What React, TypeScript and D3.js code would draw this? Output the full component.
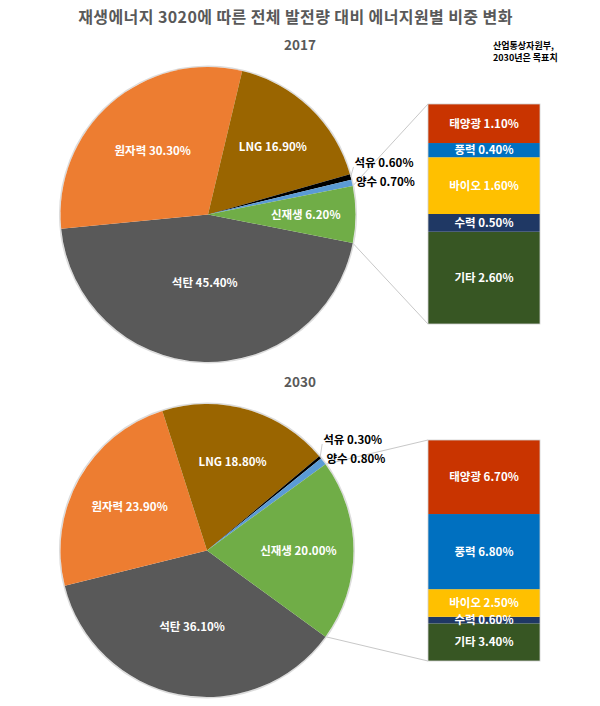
import * as d3 from "d3";

// 발전원 (파이) - 시계방향 순서
const sources = ["석탄", "원자력", "LNG", "석유", "양수", "신재생"];
const share2017 = [45.4, 30.3, 16.9, 0.6, 0.7, 6.2];
const share2030 = [36.1, 23.9, 18.8, 0.3, 0.8, 20.0];

// 신재생 세부 (막대, 아래에서 위로)
const renewables = ["기타", "수력", "바이오", "풍력", "태양광"];
const renew2017 = [2.6, 0.5, 1.6, 0.4, 1.1];
const renew2030 = [3.4, 0.6, 2.5, 6.8, 6.7];

const years = ["2017", "2030"];

const pieColors = ["#595959", "#ED7D31", "#9A6500", "#000000", "#5B9BD5", "#70AD47"];
const barColors = ["#375623", "#1F3864", "#FFC000", "#0070C0", "#C93400"];

const FONT = "'Noto Sans CJK KR', 'Noto Sans', sans-serif";
const fmt = (v: number) => v.toFixed(2) + "%";

type PanelProps = {
  year: string;
  shares: number[];
  parts: number[];
  cx: number;
  cy: number;
  r: number;
  barTop: number;
  barBottom: number;
  titleY: number;
};

function Panel({ year, shares, parts, cx, cy, r, barTop, barBottom, titleY }: PanelProps) {
  const data = sources.map((name, i) => ({ name, value: shares[i], color: pieColors[i] }));
  const otherIdx = sources.indexOf("신재생");

  // 신재생 조각의 중심이 오른쪽(90°)에 오도록 회전
  const base = d3.pie<any>().sort(null).value((d) => d.value)(data);
  const mid0 = (base[otherIdx].startAngle + base[otherIdx].endAngle) / 2;
  const offset = Math.PI / 2 - mid0;
  const arcs = d3
    .pie<any>()
    .sort(null)
    .value((d) => d.value)
    .startAngle(offset)
    .endAngle(offset + Math.PI * 2)(data);

  const arc = d3.arc<any>().innerRadius(0).outerRadius(r);
  const pt = (a: number, rr: number) => [cx + rr * Math.sin(a), cy - rr * Math.cos(a)];

  // 작은 조각은 바깥 라벨
  const outside = arcs
    .filter((a) => a.data.value < 2)
    .map((a) => {
      const m = (a.startAngle + a.endAngle) / 2;
      const [x, y] = pt(m, r + 4);
      return { a, m, x, y, moved: false };
    });
  for (let i = outside.length - 2; i >= 0; i--) {
    const next = outside[i + 1];
    if (outside[i].y > next.y - 19) {
      outside[i].y = next.y - 19;
      outside[i].moved = true;
    }
  }

  // 막대
  const barX = 428;
  const barW = 112;
  const total = d3.sum(parts);
  const y = d3.scaleLinear().domain([0, total]).range([barBottom, barTop]);
  const stacked = parts.map((v, i) => {
    const lo = d3.sum(parts.slice(0, i));
    return { name: renewables[i], value: v, y0: y(lo), y1: y(lo + v), color: barColors[i] };
  });

  const oa = arcs[otherIdx];
  const [tx, ty] = pt(oa.startAngle, r);
  const [bx, by] = pt(oa.endAngle, r);

  return (
    <g>
      <text x={300} y={titleY} textAnchor="middle" dy="0.35em" fontSize={13.5} fontWeight="bold" fill="#595959">
        {year}
      </text>
      <line x1={tx} y1={ty} x2={barX} y2={barTop} stroke="#c8c8c8" strokeWidth={1} />
      <line x1={bx} y1={by} x2={barX} y2={barBottom} stroke="#c8c8c8" strokeWidth={1} />
      <circle cx={cx} cy={cy} r={r + 0.8} fill="none" stroke="#dcdcdc" strokeWidth={1.5} />
      <g transform={`translate(${cx},${cy})`}>
        {arcs.map((a, i) => (
          <path key={i} d={arc(a) || ""} fill={a.data.color} />
        ))}
      </g>
      {arcs
        .filter((a) => a.data.value >= 2)
        .map((a, i) => {
          const m = (a.startAngle + a.endAngle) / 2;
          const half = (a.endAngle - a.startAngle) / 2;
          const d = (2 * r * Math.sin(half)) / (3 * half);
          const [lx, ly] = pt(m, d);
          return (
            <text key={i} x={lx} y={ly} dy="0.35em" textAnchor="middle" fontSize={11.5} fontWeight="bold" fill="#fff">
              {a.data.name} {fmt(a.data.value)}
            </text>
          );
        })}
      {outside.map((o, i) => {
        const [ex, ey] = pt(o.m, r);
        return (
          <g key={i}>
            {o.moved && <line x1={ex} y1={ey} x2={o.x - 1} y2={o.y + 4} stroke="#bfbfbf" strokeWidth={0.8} />}
            <text x={o.x} y={o.y} dy="0.35em" fontSize={11.5} fontWeight="bold" fill="#000">
              {o.a.data.name} {fmt(o.a.data.value)}
            </text>
          </g>
        );
      })}
      {stacked.map((s, i) => (
        <rect key={i} x={barX} y={s.y1} width={barW} height={s.y0 - s.y1} fill={s.color} />
      ))}
      <rect x={barX} y={barTop} width={barW} height={barBottom - barTop} fill="none" stroke="#d0d0d0" strokeWidth={0.8} />
      {stacked.map((s, i) => (
        <text
          key={i}
          x={barX + barW / 2}
          y={(s.y0 + s.y1) / 2}
          dy="0.35em"
          textAnchor="middle"
          fontSize={11.5}
          fontWeight="bold"
          fill="#fff"
        >
          {s.name} {fmt(s.value)}
        </text>
      ))}
    </g>
  );
}

export default function App() {
  return (
    <svg
      width={600}
      height={706}
      viewBox="0 0 600 706"
      style={{ position: "absolute", left: 0, top: 0, background: "#fff", fontFamily: FONT }}
    >
      <rect width={600} height={706} fill="#fff" />
      <text x={295.5} y={17} dy="0.35em" textAnchor="middle" fontSize={16} letterSpacing={0.4} fontWeight="bold" fill="#595959">
        재생에너지 3020에 따른 전체 발전량 대비 에너지원별 비중 변화
      </text>
      <text x={493} y={45.5} dy="0.35em" fontSize={9} fontWeight="bold" fill="#000">
        산업통상자원부,
      </text>
      <text x={493} y={58} dy="0.35em" fontSize={9} fontWeight="bold" fill="#000">
        2030년은 목표치
      </text>
      <Panel year={years[0]} shares={share2017} parts={renew2017} cx={208} cy={214.5} r={147.5} barTop={104} barBottom={324} titleY={45} />
      <Panel year={years[1]} shares={share2030} parts={renew2030} cx={207} cy={550.5} r={146.5} barTop={440} barBottom={661} titleY={382} />
    </svg>
  );
}
